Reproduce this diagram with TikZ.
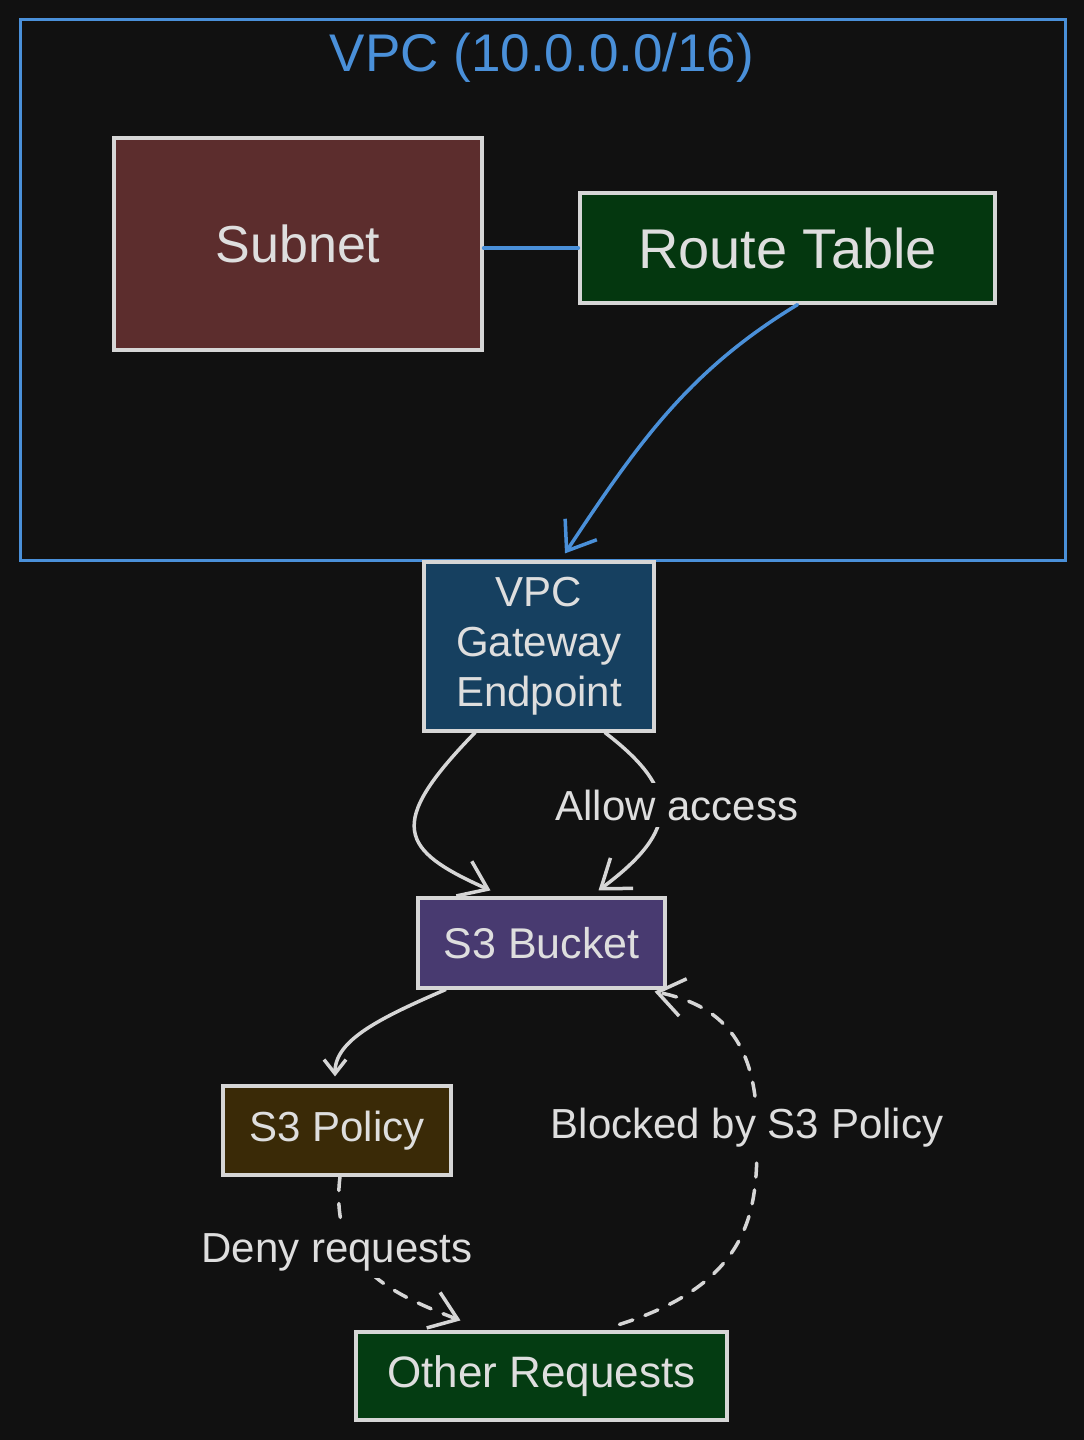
\documentclass[tikz,border=0pt]{standalone}
\usepackage{fontspec}
\setmainfont{Liberation Sans}
\usetikzlibrary{arrows.meta}
\definecolor{bg}{HTML}{111111}
\definecolor{lineclr}{HTML}{D6D6D6}
\definecolor{txt}{HTML}{DEDEDE}
\definecolor{vpcblue}{HTML}{4A90D9}
\definecolor{subfill}{HTML}{5C2D2D}
\definecolor{rtfill}{HTML}{04370F}
\definecolor{epfill}{HTML}{164060}
\definecolor{bkfill}{HTML}{483A70}
\definecolor{polfill}{HTML}{3A2A07}
\definecolor{othfill}{HTML}{043C12}
\begin{document}
\begin{tikzpicture}[x=1pt,y=-1pt,
  box/.style={draw=lineclr, line width=3.2pt, text=txt, inner sep=0pt, align=center},
  conn/.style={draw=lineclr, line width=3.5pt, line cap=round},
  dashedconn/.style={conn, dash pattern=on 14pt off 13pt},
  bigtip/.style={-{Straight Barb[length=26pt,width=38pt]}},
  smalltip/.style={-{Straight Barb[length=14pt,width=22pt]}},
  lbl/.style={text=txt, fill=bg, inner xsep=3pt, inner ysep=7pt, font=\fontsize{42}{50}\selectfont}
]
\fill[bg] (0,0) rectangle (1084,1440);
\useasboundingbox (0,0) rectangle (1084,1440);

% VPC container
\node[draw=vpcblue, line width=3pt, minimum width=1045pt, minimum height=541pt, inner sep=0pt] (vpc) at (542.5,289.5) {};
\node[text=vpcblue, font=\fontsize{53}{60}\selectfont] (vpct) at (542,58) {VPC (10.0.0.0/16)};

% nodes
\node[box, fill=subfill, minimum width=368pt, minimum height=212pt, font=\fontsize{52}{60}\selectfont] (sub) at (298,244) {Subnet};
\node[box, fill=rtfill, minimum width=415pt, minimum height=110pt, font=\fontsize{56}{60}\selectfont] (rt) at (787.5,248) {Route Table};
\node[box, fill=epfill, minimum width=230pt, minimum height=169pt, font=\fontsize{42}{50}\selectfont] (ep) at (539,646.5) {VPC\\Gateway\\Endpoint};
\node[box, fill=bkfill, minimum width=247pt, minimum height=90pt, font=\fontsize{43}{50}\selectfont] (bk) at (541.5,943) {S3 Bucket};
\node[box, fill=polfill, minimum width=228pt, minimum height=89pt, font=\fontsize{42}{50}\selectfont] (pol) at (337,1130.5) {S3 Policy};
\node[box, fill=othfill, minimum width=371pt, minimum height=88pt, font=\fontsize{44}{50}\selectfont] (oth) at (541.5,1376) {Other Requests};

% connectors
\draw[conn, draw=vpcblue] (sub.east |- rt.west) -- (rt.west);
\draw[conn, draw=vpcblue, bigtip] ([xshift=10pt]rt.south) .. controls (690,370) and (640,440) .. ([xshift=26pt,yshift=7pt]ep.north);
\draw[conn, bigtip] ([xshift=-64pt]ep.south) .. controls (385,825) and (400,850) .. ([xshift=-51pt,yshift=6pt]bk.north);
\draw[conn, bigtip] ([xshift=66pt]ep.south) .. controls (680,790) and (680,830) .. ([xshift=57pt,yshift=6pt]bk.north);
\draw[conn, smalltip] ([xshift=-96pt]bk.south) .. controls (380,1018) and (335,1040) .. ([xshift=-2pt,yshift=8pt]pol.north);
\draw[dashedconn, bigtip] ([xshift=3pt]pol.south) .. controls (330,1260) and (380,1290) .. ([xshift=-81pt,yshift=10pt]oth.north);
\draw[dashedconn, bigtip] ([xshift=78pt,yshift=6pt]oth.north) .. controls (760,1280) and (757,1200) .. (757,1130) .. controls (757,1040) and (720,1005) .. ([xshift=113pt,yshift=-2pt]bk.south);

% labels
\node[lbl] (lallow) at (677,805) {Allow access};
\node[lbl] (ldeny) at (337,1252) {Deny requests};
\node[lbl] (lblock) at (747,1128) {Blocked by S3 Policy};
\end{tikzpicture}
\end{document}
